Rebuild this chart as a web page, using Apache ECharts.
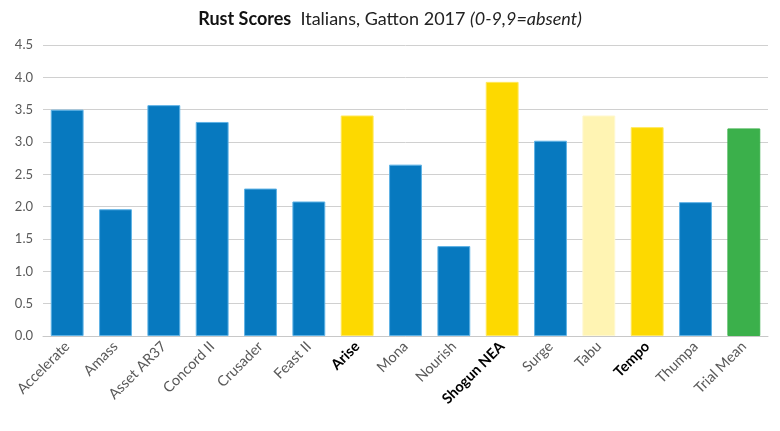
<!DOCTYPE html>
<html>
<head>
    <meta charset="utf-8">
    <title>Rust Scores</title>
    <script type="text/javascript" src="https://cdn.jsdelivr.net/npm/echarts@6/dist/echarts.min.js"></script>
    <style type="text/css">
        body{margin:0;background:#fff;}
        #chart{width:780px;height:431px;}
    </style>
</head>
<body>
<div id="chart"></div>
<script type="text/javascript">
    // varieties and rust scores
    let varieties = ['Accelerate','Amass','Asset AR37','Concord II','Crusader','Feast II','Arise','Mona','Nourish','Shogun NEA','Surge','Tabu','Tempo','Thumpa','Trial Mean'];
    let scores = [3.50, 1.96, 3.57, 3.31, 2.28, 2.08, 3.41, 2.65, 1.39, 3.93, 3.02, 3.41, 3.23, 2.07, 3.21];
    let barKinds = ['b','b','b','b','b','b','y','b','b','y','b','ly','y','b','g'];
    let boldNames = ['Arise','Shogun NEA','Tempo'];
    let yTicks = [0, 0.5, 1, 1.5, 2, 2.5, 3, 3.5, 4, 4.5];

    let kindColor = {b:'#0779bf', y:'#fdd900', ly:'#fff4b3', g:'#3bb04b'};
    let kindBorder = {b:'#5fb3e6', y:'#ffe85a', ly:'#fff8cf', g:'#3bb04b'};

    let chart = echarts.init(document.getElementById('chart'), null, {renderer: 'canvas'});

    let barData = scores.map(function (v, i) {
        return {
            value: v,
            itemStyle: {color: kindColor[barKinds[i]], borderColor: kindBorder[barKinds[i]], borderWidth: 1}
        };
    });

    chart.setOption({
        animation: false,
        textStyle: {fontFamily: 'Lato'},
        title: {
            text: '{b|Rust Scores}  {r|Italians, Gatton 2017} {i|(0-9,9=absent)}',
            left: 'center',
            top: 5,
            textStyle: {
                fontWeight: 'normal',
                rich: {
                    b: {fontFamily: 'Lato', fontWeight: 'bold', fontSize: 18, color: '#111'},
                    r: {fontFamily: 'Lato', fontWeight: 'normal', fontSize: 18, color: '#222'},
                    i: {fontFamily: 'Lato', fontWeight: 'normal', fontStyle: 'italic', fontSize: 18, color: '#222'}
                }
            }
        },
        grid: {left: 43, right: 12, top: 45, bottom: 95, containLabel: false},
        xAxis: {
            type: 'category',
            data: varieties,
            axisTick: {show: false},
            axisLine: {lineStyle: {color: '#c8c8c8', width: 1}},
            axisLabel: {
                interval: 0,
                rotate: 45,
                margin: 8,
                fontSize: 14.5,
                color: '#595959',
                formatter: function (v) {
                    return boldNames.indexOf(v) >= 0 ? '{bold|' + v + '}' : v;
                },
                rich: {bold: {fontWeight: 'bold', color: '#000', fontSize: 14.5, fontFamily: 'Lato'}}
            }
        },
        yAxis: {
            type: 'value',
            min: yTicks[0],
            max: yTicks[yTicks.length - 1],
            interval: 0.5,
            axisLine: {show: false},
            axisTick: {show: false},
            splitLine: {lineStyle: {color: '#d0d0d0', width: 1}},
            axisLabel: {
                fontSize: 13,
                color: '#595959',
                margin: 10,
                formatter: function (v) { return v.toFixed(1); }
            }
        },
        series: [{
            type: 'bar',
            data: barData,
            barCategoryGap: '32%'
        }]
    });
</script>
</body>
</html>
